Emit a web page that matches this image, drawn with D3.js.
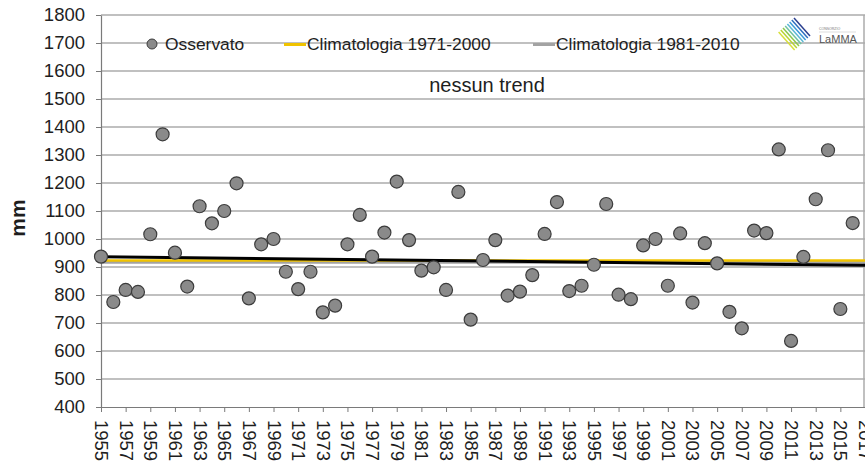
<!DOCTYPE html>
<html lang="it">
<head>
<meta charset="UTF-8">
<title>Precipitazioni annue</title>
<script src="https://cdn.jsdelivr.net/npm/d3@7"></script>
<style>
  body { margin: 0; background: #fff; }
  svg { display: block; font-family: "Liberation Sans", Arial, sans-serif; }
</style>
</head>
<body>
<script>
// dati (mm annui)
var firstYear = 1955, lastYear = 2017;
var observed = [937, 775, 818, 811, 1017, 1374, 951, 830, 1117, 1056,
                1100, 1199, 788, 981, 1000, 883, 821, 883, 738, 762,
                981, 1086, 937, 1023, 1205, 996, 887, 899, 818, 1168,
                712, 925, 996, 798, 812, 871, 1018, 1132, 814, 833,
                908, 1125, 801, 785, 977, 1000, 833, 1020, 773, 985,
                913, 740, 681, 1030, 1021, 1320, 636, 936, 1142, 1317,
                750, 1057];
var clim7100 = [923, 923];      // Climatologia 1971-2000
var clim8110 = [917, 917];      // Climatologia 1981-2010
var trendValues = [937, 906];   // linea di tendenza
var lineYears = [firstYear, lastYear];
var yTicks = [400, 500, 600, 700, 800, 900, 1000, 1100, 1200, 1300, 1400, 1500, 1600, 1700, 1800];
var xTicks = [];
for (var yr = firstYear; yr <= lastYear; yr += 2) xTicks.push(yr);

var width = 865, height = 461;
var svg = d3.select("body").append("svg")
    .attr("width", width)
    .attr("height", height);

var x = d3.scaleLinear().domain([firstYear, lastYear]).range([101, 865]);
var y = d3.scaleLinear().domain([400, 1800]).range([407, 15]);

// griglia
svg.append("g")
    .selectAll("line")
    .data(yTicks.slice(1))
    .enter().append("line")
    .attr("x1", x(firstYear)).attr("x2", x(lastYear))
    .attr("y1", function(d) { return y(d); })
    .attr("y2", function(d) { return y(d); })
    .attr("stroke", "#ababab")
    .attr("stroke-width", 1.5);

// bordo destro
svg.append("line")
    .attr("x1", x(lastYear) - 1).attr("x2", x(lastYear) - 1)
    .attr("y1", y(1800)).attr("y2", y(400))
    .attr("stroke", "#ababab").attr("stroke-width", 1.5);

// asse y
var yAxis = svg.append("g")
    .attr("transform", "translate(" + x(firstYear) + ",0)")
    .call(d3.axisLeft(y).tickValues(yTicks).tickFormat(d3.format("d"))
        .tickSize(5).tickSizeOuter(0).tickPadding(11));
yAxis.select(".domain").attr("stroke", "#7a7a7a").attr("stroke-width", 1.2);
yAxis.selectAll(".tick line").attr("stroke", "#7a7a7a");
yAxis.selectAll("text")
    .attr("font-size", "18.5px")
    .attr("font-family", "Liberation Sans, Arial, sans-serif")
    .attr("fill", "#1e1e1e");

// asse x
var xAxis = svg.append("g")
    .attr("transform", "translate(0," + y(400) + ")")
    .call(d3.axisBottom(x).tickValues(xTicks).tickFormat(d3.format("d")).tickSize(5).tickSizeOuter(0));
xAxis.select(".domain").attr("stroke", "#7a7a7a").attr("stroke-width", 1.2);
xAxis.selectAll(".tick line").attr("stroke", "#7a7a7a");
xAxis.selectAll("text")
    .attr("font-size", "18.5px")
    .attr("font-family", "Liberation Sans, Arial, sans-serif")
    .attr("fill", "#1e1e1e")
    .attr("text-anchor", "start")
    .attr("transform", "translate(0,7) rotate(90)")
    .attr("x", 6)
    .attr("y", 0)
    .attr("dy", "0.35em");

// titolo asse y
svg.append("text")
    .attr("transform", "translate(25,218) rotate(-90)")
    .attr("text-anchor", "middle")
    .attr("font-size", "21px")
    .attr("font-weight", "bold")
    .attr("fill", "#1e1e1e")
    .text("mm");

var line = d3.line()
    .x(function(d) { return x(d[0]); })
    .y(function(d) { return y(d[1]); });

// climatologie e tendenza
svg.append("path")
    .attr("d", line(d3.zip(lineYears, clim8110)))
    .attr("fill", "none").attr("stroke", "#a3a3a3").attr("stroke-width", 3);
svg.append("path")
    .attr("d", line(d3.zip(lineYears, clim7100)))
    .attr("fill", "none").attr("stroke", "#f0c300").attr("stroke-width", 2.5);
svg.append("path")
    .attr("d", line(d3.zip(lineYears, trendValues)))
    .attr("fill", "none").attr("stroke", "#000").attr("stroke-width", 3);

// punti osservati
svg.append("g")
    .selectAll("circle")
    .data(observed)
    .enter().append("circle")
    .attr("cx", function(d, i) { return x(firstYear + i); })
    .attr("cy", function(d) { return y(d); })
    .attr("r", 6.5)
    .attr("fill", "#8a8a8a")
    .attr("stroke", "#3c3c3c")
    .attr("stroke-width", 1.2);

// legenda
var legend = svg.append("g").attr("font-size", "17.4px").attr("fill", "#1e1e1e");
legend.append("circle")
    .attr("cx", 152).attr("cy", 44).attr("r", 5)
    .attr("fill", "#8a8a8a").attr("stroke", "#3c3c3c").attr("stroke-width", 1);
legend.append("text").attr("x", 165).attr("y", 50).text("Osservato");
legend.append("line")
    .attr("x1", 284).attr("x2", 306).attr("y1", 44.5).attr("y2", 44.5)
    .attr("stroke", "#f0c300").attr("stroke-width", 3);
legend.append("text").attr("x", 307).attr("y", 50).text("Climatologia 1971-2000");
legend.append("line")
    .attr("x1", 533).attr("x2", 555).attr("y1", 44.5).attr("y2", 44.5)
    .attr("stroke", "#a3a3a3").attr("stroke-width", 3);
legend.append("text").attr("x", 556).attr("y", 50).text("Climatologia 1981-2010");

svg.append("text")
    .attr("x", 487).attr("y", 92)
    .attr("text-anchor", "middle")
    .attr("font-size", "20px")
    .attr("fill", "#1e1e1e")
    .text("nessun trend");

// logo LaMMA
var logo = svg.append("g").attr("transform", "translate(784,18)");
var stripeColors = ["#2b3f8f", "#2f6fc0", "#3b9ad8", "#5cb8d6", "#6fc2a0", "#8cc84b", "#b8d432", "#d8df3a"];
logo.selectAll("line")
    .data(stripeColors)
    .enter().append("line")
    .attr("x1", function(d, i) { return 10 - i * 2.2; })
    .attr("y1", function(d, i) { return 0 + i * 2; })
    .attr("x2", function(d, i) { return 26 - i * 2.2; })
    .attr("y2", function(d, i) { return 18 + i * 2; })
    .attr("stroke", function(d) { return d; })
    .attr("stroke-width", 1.5);
logo.append("text")
    .attr("x", 35).attr("y", 12)
    .attr("font-size", "3.5px").attr("fill", "#777")
    .text("CONSORZIO");
logo.append("line")
    .attr("x1", 35).attr("x2", 72).attr("y1", 14).attr("y2", 14)
    .attr("stroke", "#bbb").attr("stroke-width", 0.5);
logo.append("text")
    .attr("x", 35).attr("y", 25)
    .attr("font-size", "11px").attr("fill", "#555")
    .text("LaMMA");
</script>
</body>
</html>
